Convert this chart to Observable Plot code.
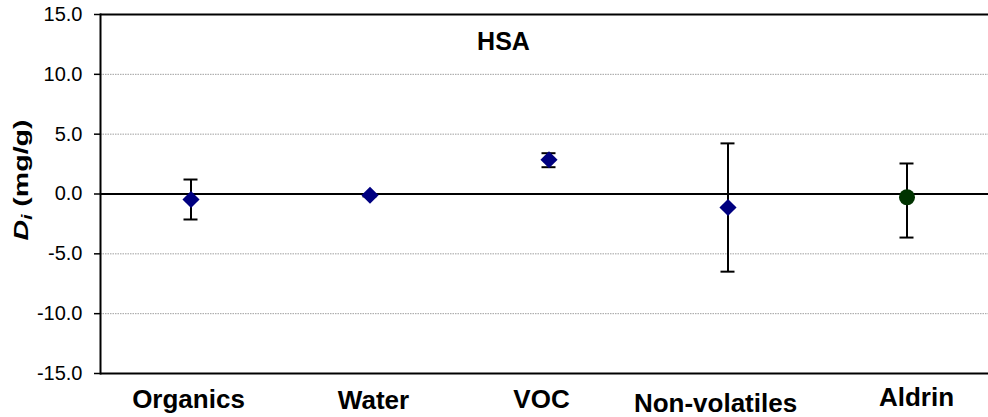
<!DOCTYPE html>
<html>
<head>
<meta charset="utf-8">
<script src="https://cdn.jsdelivr.net/npm/d3@7"></script>
<script src="https://cdn.jsdelivr.net/npm/@observablehq/plot@0.6"></script>
<style>
  html, body { margin: 0; padding: 0; background: #fff; }
  #chart svg { display: block; overflow: hidden; }
</style>
</head>
<body>
<div id="chart"></div>
<script>
const categories = ["Organics", "Water", "VOC", "Non-volatiles", "Aldrin"];
const means = [-0.46, -0.1, 2.86, -1.13, -0.27];
const lower = [-2.13, -0.2, 2.24, -6.49, -3.64];
const upper = [1.21, 0.0, 3.41, 4.23, 2.55];
const yTicks = [-15, -10, -5, 0, 5, 10, 15];
const gridValues = [-10, -5, 0, 5, 10];
const title = "HSA";

const data = categories.map((c, i) => ({cat: c, mean: means[i], lo: lower[i], hi: upper[i]}));
const diamonds = data.filter(d => d.cat !== "Aldrin");
const circles = data.filter(d => d.cat === "Aldrin");

const font = "'Liberation Sans', Arial, sans-serif";
const W = 988, H = 417;

// per-label nudges of the category labels (as in the reference layout)
const labelStyle = {
  "Organics":      {dx: -2.5, pad: 16},
  "Water":         {dx: 3.5,  pad: 17},
  "VOC":           {dx: -7.5, pad: 16},
  "Non-volatiles": {dx: -12.5, pad: 20},
  "Aldrin":        {dx: 9.5,  pad: 14}
};
const xAxes = categories.map(c => Plot.axisX([c], {
  tickSize: 0, tickPadding: labelStyle[c].pad, dx: labelStyle[c].dx,
  fontSize: 26, fontWeight: "bold", label: null
}));

const chart = Plot.plot({
  width: W,
  height: H,
  marginLeft: 100,
  marginRight: 0,
  marginTop: 14,
  marginBottom: 44,
  style: {fontFamily: font, background: "#fff", color: "#000"},
  x: {type: "band", domain: categories, range: [101, 996], padding: 0},
  y: {domain: [-15, 15], ticks: yTicks},
  marks: [
    Plot.ruleY(gridValues, {stroke: "#a0a0a0", strokeWidth: 1, strokeDasharray: "1.5,1"}),
    Plot.ruleY([0], {stroke: "#000", strokeWidth: 2}),
    Plot.ruleY([15, -15], {stroke: "#000", strokeWidth: 2}),
    Plot.frame({anchor: "left", stroke: "#000", strokeWidth: 2}),
    Plot.axisY({ticks: yTicks, tickFormat: d => d.toFixed(1), tickSize: 6, tickPadding: 12,
      fontSize: 20, stroke: "#000", strokeWidth: 1.5, label: null}),
    ...xAxes,
    Plot.ruleX(data, {x: "cat", y1: "lo", y2: "hi", stroke: "#000", strokeWidth: 2}),
    Plot.tickY(data, {x: "cat", y: "hi", stroke: "#000", strokeWidth: 2, insetLeft: 82.5, insetRight: 82.5}),
    Plot.tickY(data, {x: "cat", y: "lo", stroke: "#000", strokeWidth: 2, insetLeft: 82.5, insetRight: 82.5}),
    Plot.dot(diamonds, {x: "cat", y: "mean", symbol: "diamond2", r: 7.7, fill: "#000080", stroke: "none"}),
    Plot.dot(circles, {x: "cat", y: "mean", symbol: "circle", r: 8, fill: "#003300", stroke: "none"}),
    Plot.text([title], {frameAnchor: "top", dx: -41, dy: 27, text: d => d, fontSize: 25, fontWeight: "bold", fill: "#000", lineAnchor: "middle"})
  ]
});

document.getElementById("chart").appendChild(chart);

// Y-axis label with italic D and subscript i
const svg = d3.select(chart);
const ylab = svg.append("text")
  .attr("transform", "translate(28,180) rotate(-90)")
  .attr("text-anchor", "middle")
  .attr("font-family", font)
  .attr("font-size", 21)
  .attr("font-weight", "bold")
  .attr("fill", "#000")
  .attr("textLength", 121)
  .attr("lengthAdjust", "spacingAndGlyphs");
ylab.append("tspan").attr("font-style", "italic").text("D");
ylab.append("tspan").attr("font-style", "italic").attr("font-size", 14).attr("dy", 4).text("i");
ylab.append("tspan").attr("dy", -4).text(" (mg/g)");
</script>
</body>
</html>
